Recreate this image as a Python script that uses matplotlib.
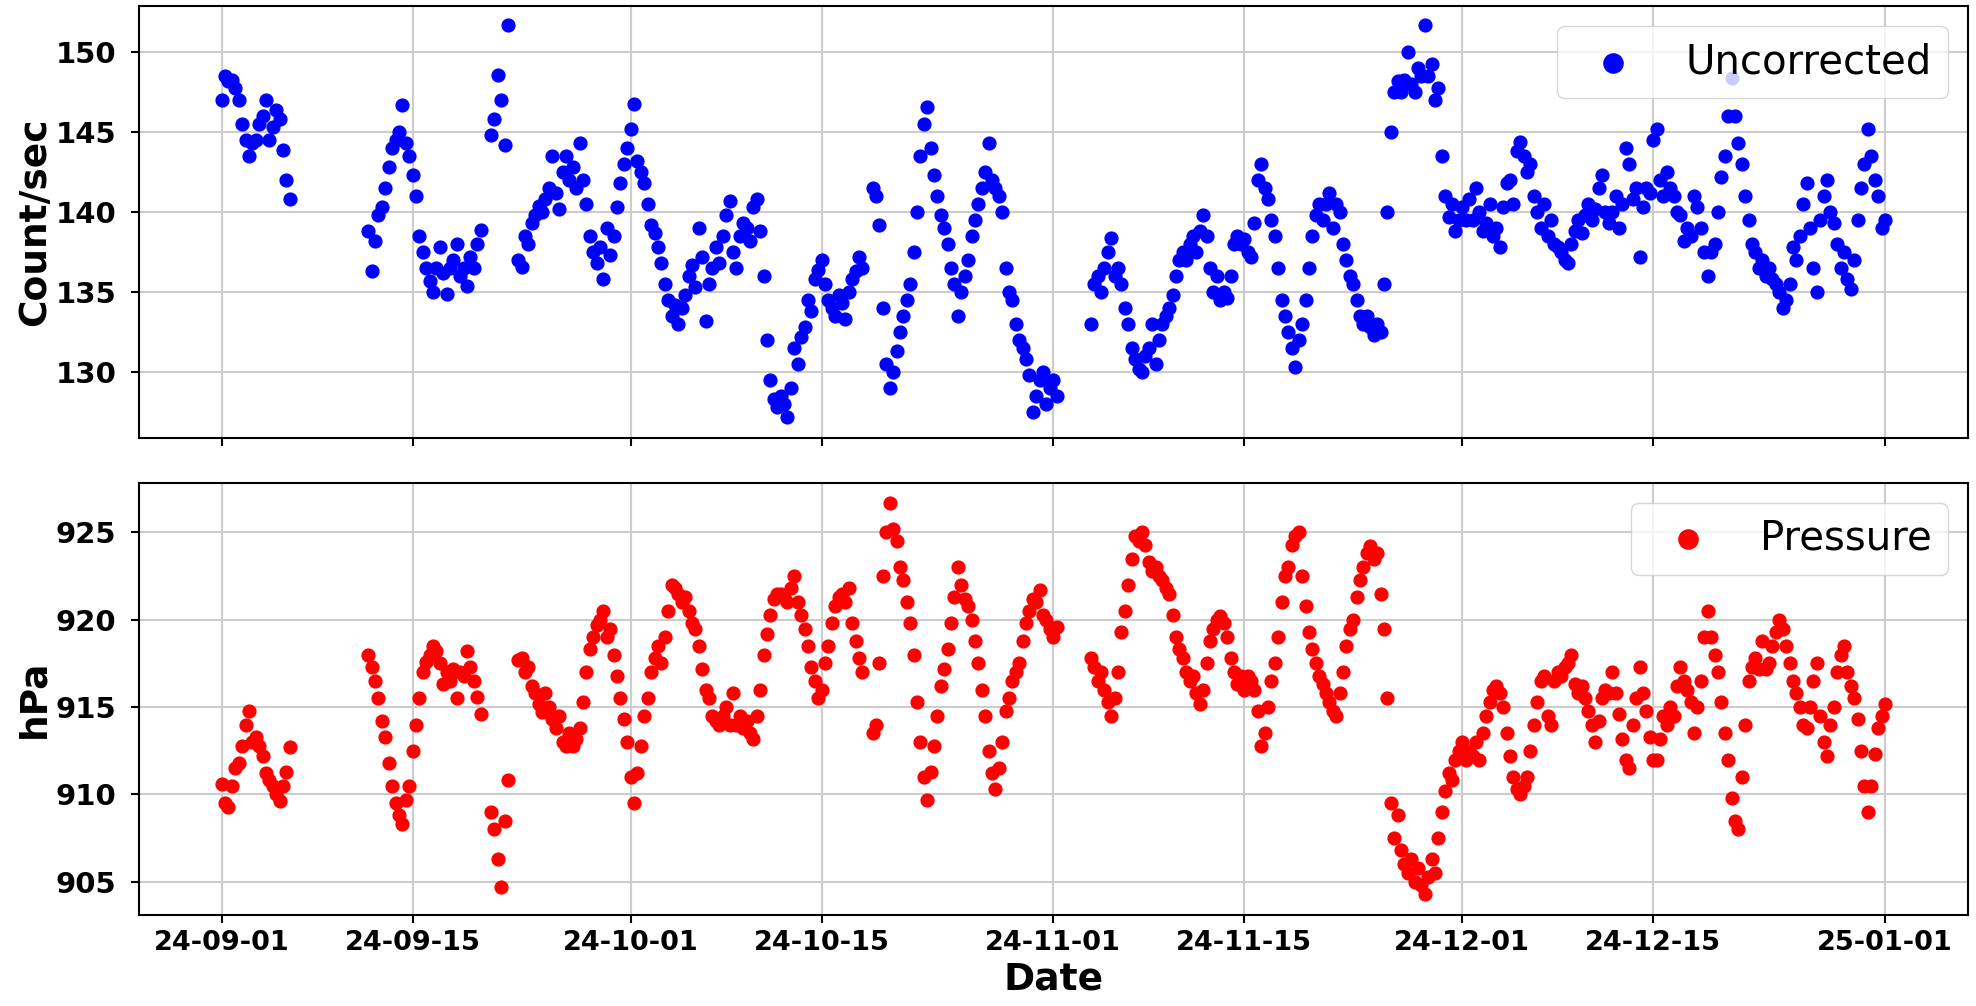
import pandas as pd
import matplotlib
matplotlib.use('Agg')
import matplotlib.pyplot as plt
import matplotlib.dates as mdates
from matplotlib.ticker import MultipleLocator

# 6-hourly readings, split into the recorded segments (gaps in between)
seg_starts = ['2024-09-01 00:00', '2024-09-11 18:00', '2024-09-20 18:00',
              '2024-09-22 18:00', '2024-10-18 18:00', '2024-11-03 18:00']

# uncorrected count rate (Count/sec)
counts_1 = [147.0, 148.5, 148.2, 148.3, 147.8, 147.0, 145.5, 144.5, 143.5, 144.3, 144.5,
            145.5, 146.0, 147.0, 144.5, 145.3, 146.4, 145.8, 143.9, 142.0, 140.8]
counts_2 = [138.8, 136.3, 138.2, 139.8, 140.3, 141.5, 142.8, 144.0, 144.5, 145.0, 146.7,
            144.3, 143.5, 142.3, 141.0, 138.5, 137.5, 136.5, 135.7, 135.0, 136.5, 137.8,
            136.2, 134.9, 136.5, 137.0, 138.0, 136.0, 136.5, 135.4, 137.2, 136.5, 138.0, 138.9]
counts_3 = [144.8, 145.8, 148.6, 147.0, 144.2, 151.7]
counts_4 = [137.0, 136.6, 138.5, 138.0, 139.3, 139.8, 140.4, 140.0, 140.8, 141.5, 143.5, 141.2, 140.2, 142.5,
            143.5, 142.0, 142.8, 141.5, 144.3, 142.0, 140.5, 138.5, 137.5, 136.8, 137.8, 135.8, 139.0, 137.3, 138.5, 140.3,
            141.8, 143.0, 144.0, 145.2, 146.8, 143.2, 142.5, 141.8, 140.5, 139.2, 138.7, 137.8, 136.8, 135.5, 134.5, 133.5,
            134.2, 133.0, 134.0, 134.8, 136.0, 136.7, 135.3, 139.0, 137.2, 133.2, 135.5, 136.5, 137.8, 136.8, 138.5, 139.8,
            140.7, 137.5, 136.5, 138.5, 139.3, 139.0, 138.2, 140.3, 140.8, 138.8, 136.0, 132.0, 129.5, 128.3, 127.8, 128.5,
            128.0, 127.2, 129.0, 131.5, 130.5, 132.2, 132.8, 134.5, 133.8, 135.8, 136.4, 137.0, 135.5, 134.5, 134.0, 133.5,
            134.8, 134.3, 133.3, 135.0, 135.8, 136.3, 137.2, 136.5]
counts_5 = [141.5, 141.0, 139.2, 134.0, 130.5, 129.0,
            130.0, 131.3, 132.5, 133.5, 134.5, 135.5, 137.5, 140.0, 143.5, 145.5, 146.6, 144.0, 142.3, 141.0, 139.8, 139.0,
            138.0, 136.5, 135.5, 133.5, 135.0, 136.0, 137.0, 138.5, 139.5, 140.5, 141.5, 142.5, 144.3, 142.0, 141.5, 141.0,
            140.0, 136.5, 135.0, 134.5, 133.0, 132.0, 131.5, 130.8, 129.8, 127.5, 128.5, 129.5, 130.0, 128.0, 129.0, 129.5, 128.5]
counts_6 = [133.0, 135.5, 136.0, 135.0, 136.5, 137.5,
            138.4, 136.0, 136.5, 135.5, 134.0, 133.0, 131.5, 130.8, 130.2, 130.0, 131.0, 131.5, 133.0, 130.5, 132.0, 133.0,
            133.5, 134.0, 134.8, 136.0, 137.0, 137.5, 137.0, 138.0, 138.5, 137.5, 138.8, 139.8, 138.5, 136.5, 135.0, 136.0,
            134.5, 135.0, 134.6, 136.0, 138.0, 138.5, 138.0, 138.3, 137.5, 137.2, 139.3, 142.0, 143.0, 141.5, 140.8, 139.5,
            138.5, 136.5, 134.5, 133.5, 132.5, 131.5, 130.3, 132.0, 133.0, 134.5, 136.5, 138.5, 139.8, 140.5, 139.5, 140.5,
            141.2, 139.0, 140.5, 140.0, 138.0, 137.0, 136.0, 135.5, 134.5, 133.5, 133.0, 133.5, 132.8, 132.3, 133.0, 132.5,
            135.5, 140.0, 145.0, 147.5, 148.2, 147.5, 148.3, 150.0, 148.0, 147.5, 149.0, 148.5, 151.7, 148.5, 149.3, 147.0,
            147.8, 143.5, 141.0, 139.7, 140.5, 138.8, 139.5, 140.3, 139.5, 140.8, 139.5, 141.5, 140.0, 138.8, 139.3, 140.5,
            138.5, 139.0, 137.8, 140.3, 141.8, 142.0, 140.5, 143.8, 144.4, 143.5, 142.5, 143.0, 141.0, 140.0, 139.0, 140.5,
            138.5, 139.5, 138.0, 137.8, 137.5, 137.0, 136.8, 138.0, 138.8, 139.5, 138.7, 139.8, 140.5, 139.5, 140.2, 141.5,
            142.3, 140.0, 139.3, 140.0, 141.0, 139.0, 140.5, 144.0, 143.0, 140.8, 141.5, 137.2, 140.3, 141.5, 141.2, 144.5,
            145.2, 142.0, 141.0, 142.5, 141.5, 141.0, 140.0, 139.8, 138.2, 139.0, 138.5, 141.0, 140.3, 139.0, 137.5, 136.0,
            137.5, 138.0, 140.0, 142.2, 143.5, 146.0, 148.4, 146.0, 144.3, 143.0, 141.0, 139.5, 138.0, 137.5, 136.5, 137.0,
            136.0, 136.5, 135.8, 135.5, 135.0, 134.0, 134.5, 135.5, 137.8, 137.0, 138.5, 140.5, 141.8, 139.0, 136.5, 135.0,
            139.5, 141.0, 142.0, 140.0, 139.3, 138.0, 136.5, 137.5, 135.8, 135.2, 137.0, 139.5, 141.5, 143.0, 145.2, 143.5,
            142.0, 141.0, 139.0, 139.5]

# station pressure (hPa)
pressure_1 = [910.6, 909.5, 909.3, 910.5, 911.5, 911.8, 912.8, 914.0, 914.8, 913.0, 913.3,
              912.8, 912.2, 911.2, 910.8, 910.5, 910.0, 909.6, 910.5, 911.3, 912.7]
pressure_2 = [918.0, 917.3, 916.5, 915.5, 914.2, 913.3, 911.8, 910.5, 909.5, 908.8, 908.3,
              909.7, 910.5, 912.5, 914.0, 915.5, 917.0, 917.6, 918.0, 918.5, 918.2, 917.5,
              916.3, 917.0, 916.5, 917.2, 915.5, 917.0, 916.8, 918.2, 917.3, 916.5, 915.6, 914.6]
pressure_3 = [909.0, 908.0, 906.3, 904.7, 908.5, 910.8]
pressure_4 = [917.7, 917.8, 917.0, 917.3, 916.2, 915.8, 915.2, 914.7, 915.8, 915.0, 914.3, 913.8, 914.5, 913.0,
              912.8, 913.5, 912.8, 913.2, 913.8, 915.3, 917.0, 918.3, 919.0, 919.7, 920.0, 920.5, 919.0, 919.5, 918.0, 916.8,
              915.5, 914.3, 913.0, 911.0, 909.5, 911.2, 912.8, 914.5, 915.5, 917.0, 917.8, 918.5, 917.5, 919.0, 920.5, 922.0,
              921.8, 921.5, 921.0, 921.3, 920.5, 919.8, 919.5, 918.5, 917.2, 916.0, 915.5, 914.5, 914.2, 914.0, 914.5, 915.0,
              914.0, 915.8, 914.0, 914.5, 913.8, 914.2, 913.5, 913.2, 914.5, 916.0, 918.0, 919.2, 920.3, 921.2, 921.5, 921.5,
              921.3, 921.0, 921.8, 922.5, 921.0, 920.3, 919.5, 918.5, 917.3, 916.5, 915.5, 916.0, 917.5, 918.5, 919.8, 920.8,
              921.3, 921.5, 921.0, 921.8, 919.8, 918.8, 917.8, 917.0]
pressure_5 = [913.5, 914.0, 917.5, 922.5, 925.0, 926.7,
              925.2, 924.5, 923.0, 922.3, 921.0, 919.8, 918.0, 915.3, 913.0, 911.0, 909.7, 911.3, 912.8, 914.5, 916.2, 917.2,
              918.3, 919.8, 921.3, 923.0, 922.0, 921.2, 920.8, 920.0, 918.8, 917.5, 916.0, 914.5, 912.5, 911.2, 910.3, 911.5,
              913.0, 914.8, 915.5, 916.5, 917.0, 917.5, 918.8, 919.8, 920.5, 921.2, 921.0, 921.7, 920.3, 920.0, 919.5, 919.0, 919.6]
pressure_6 = [917.8, 917.3, 916.5, 917.0, 916.0, 915.3,
              914.5, 915.5, 917.0, 919.3, 920.5, 922.0, 923.5, 924.8, 924.5, 925.0, 924.3, 923.3, 922.8, 923.0, 922.5, 922.3,
              921.8, 921.5, 920.3, 919.0, 918.3, 917.8, 917.0, 916.5, 916.8, 915.8, 915.2, 916.0, 917.5, 918.8, 919.5, 920.0,
              920.2, 919.8, 919.0, 917.8, 917.0, 916.3, 916.8, 916.0, 916.8, 916.5, 916.0, 914.8, 912.8, 913.5, 915.0, 916.5,
              917.5, 919.0, 921.0, 922.5, 923.0, 924.3, 924.8, 925.0, 922.5, 920.8, 919.3, 918.3, 917.5, 916.8, 916.3, 915.8,
              915.3, 914.8, 914.5, 915.8, 917.0, 918.5, 919.5, 920.0, 921.3, 922.3, 923.0, 923.8, 924.2, 923.5, 923.8, 921.5,
              919.5, 915.5, 909.5, 907.5, 908.8, 906.8, 906.0, 905.5, 906.3, 905.0, 905.8, 904.8, 904.3, 905.3, 906.3, 905.5,
              907.5, 909.0, 910.2, 911.2, 910.8, 912.0, 912.5, 913.0, 912.0, 912.5, 912.2, 913.0, 912.0, 913.5, 914.5, 915.3,
              916.0, 916.2, 915.8, 915.0, 913.5, 912.2, 911.0, 910.3, 910.0, 910.5, 911.0, 912.5, 914.0, 915.3, 916.5, 916.8,
              914.5, 914.0, 916.5, 917.0, 916.8, 917.3, 917.5, 918.0, 916.3, 915.8, 916.2, 915.5, 914.8, 914.0, 913.0, 914.2,
              915.5, 916.0, 915.8, 917.0, 915.8, 914.6, 913.2, 912.0, 911.5, 914.0, 915.5, 917.3, 915.8, 914.8, 913.3, 912.0,
              912.0, 913.2, 914.5, 914.0, 915.0, 914.5, 916.2, 917.3, 916.5, 916.0, 915.3, 913.5, 915.0, 916.5, 919.0, 920.5,
              919.0, 918.0, 917.0, 915.3, 913.5, 912.0, 909.8, 908.5, 908.0, 911.0, 914.0, 916.5, 917.3, 917.8, 917.2, 918.8,
              917.2, 917.5, 918.5, 919.3, 920.0, 919.5, 918.5, 917.5, 916.5, 915.8, 915.0, 914.0, 913.8, 915.0, 916.5, 917.5,
              914.5, 913.0, 912.2, 914.0, 915.0, 917.0, 918.0, 918.5, 917.0, 916.2, 915.5, 914.3, 912.5, 910.5, 909.0, 910.5,
              912.3, 913.8, 914.5, 915.2]

counts_segments = [counts_1, counts_2, counts_3, counts_4, counts_5, counts_6]
pressure_segments = [pressure_1, pressure_2, pressure_3, pressure_4, pressure_5, pressure_6]


def to_series(segments):
    parts = []
    for start, vals in zip(seg_starts, segments):
        idx = pd.date_range(start, periods=len(vals), freq='6h')
        parts.append(pd.Series(vals, index=idx))
    return pd.concat(parts)


counts = to_series(counts_segments)
pressure = to_series(pressure_segments)

plt.rcParams['font.family'] = 'DejaVu Sans'
plt.rcParams['font.weight'] = 'bold'
plt.rcParams['axes.linewidth'] = 1.5

fig, (ax1, ax2) = plt.subplots(2, 1, figsize=(19.76, 10.06), dpi=100, sharex=True)
ax1.set_position([0.0701, 0.5643, 0.9259, 0.4297])
ax2.set_position([0.0701, 0.0905, 0.9259, 0.4297])

ax1.scatter(counts.index, counts.values, s=85, color='blue', label='Uncorrected', zorder=3)
ax2.scatter(pressure.index, pressure.values, s=85, color='red', label='Pressure', zorder=3)

ax1.set_ylabel('Count/sec', fontsize=27, fontweight='bold', labelpad=2)
ax2.set_ylabel('hPa', fontsize=27, fontweight='bold', labelpad=2)
ax2.set_xlabel('Date', fontsize=27, fontweight='bold')

ax1.set_ylim(125.85, 152.9)
ax2.set_ylim(903.1, 927.85)

for ax in (ax1, ax2):
    ax.yaxis.set_major_locator(MultipleLocator(5))
    ax.grid(True, color='#cccccc', linewidth=1.5)
    ax.set_axisbelow(True)
    ax.tick_params(axis='x', labelsize=19.5, length=6, width=1.5, pad=5)
    ax.tick_params(axis='y', labelsize=21, length=6, width=1.5, pad=10)
    ax.legend(loc='upper right', markerscale=1.5, prop={'size': 29, 'weight': 'normal'})

ax2.xaxis.set_major_locator(mdates.DayLocator(bymonthday=[1, 15]))
ax2.xaxis.set_major_formatter(mdates.DateFormatter('%y-%m-%d'))

fig.savefig('out.png', dpi=100)
